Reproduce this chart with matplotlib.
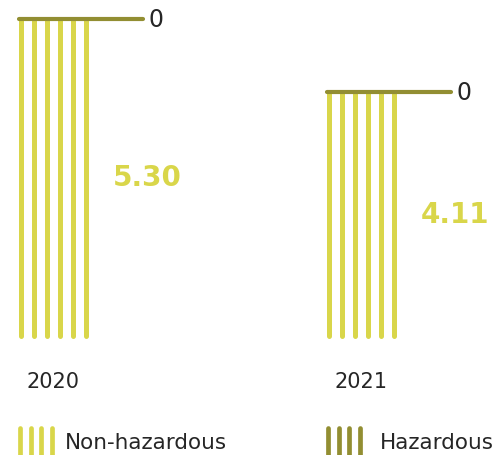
import matplotlib
matplotlib.use("Agg")
import matplotlib.pyplot as plt
from matplotlib.lines import Line2D

years = ["2020", "2021"]
non_hazardous = [5.30, 4.11]
hazardous = [0, 0]
value_labels = ["5.30", "4.11"]
hazard_labels = ["0", "0"]
legend_labels = ["Non-hazardous", "Hazardous"]

YELLOW = "#d9d64a"
OLIVE = "#928e32"
TEXT = "#262626"
FONT = "DejaVu Sans"

W, H = 494, 456
fig = plt.figure(figsize=(W / 100, H / 100), dpi=100)

# axes: x in pixel-like units, y in tonnes
y_zero_px, y_top_px = 346.5, 20
ax = fig.add_axes([0, (H - y_zero_px) / H, 1, (y_zero_px - y_top_px) / H])
ax.set_xlim(0, W)
ax.set_ylim(0, 5.30)
ax.axis("off")

group_left = [21, 329]      # x of first stripe in each group
stripe_pitch = 12.9
n_stripes = 6
hline_len = 124
stripe_base = 0.16

for i, yr in enumerate(years):
    x0 = group_left[i]
    total = non_hazardous[i] + hazardous[i]
    xs = [x0 + k * stripe_pitch for k in range(n_stripes)]
    ax.vlines(xs, stripe_base, non_hazardous[i], colors=YELLOW, linewidth=3.6,
              capstyle="round", clip_on=False)
    ax.plot([x0 - 2, x0 - 2 + hline_len], [total, total], color=OLIVE,
            linewidth=3.0, solid_capstyle="round", clip_on=False)
    ax.text(x0 - 2 + hline_len + 5, total, hazard_labels[i], color=TEXT,
            fontsize=17, fontfamily=FONT, ha="left", va="center")
    ax.text(x0 + 92, non_hazardous[i] / 2 + 0.08, value_labels[i], color=YELLOW,
            fontsize=20, fontweight="bold", fontfamily=FONT,
            ha="left", va="center")
    ax.text(x0 + 32, -0.58, yr, color=TEXT, fontsize=15, fontfamily=FONT,
            ha="center", va="center")

# legend drawn in figure pixel coordinates
def px(x, y):
    return x / W, 1 - y / H

legend_items = [(20, YELLOW, 65), (328, OLIVE, 380)]
for (lx, col, tx), lab in zip(legend_items, legend_labels):
    for k in range(4):
        x = lx + k * 10.7
        (x1, y1), (x2, y2) = px(x, 429), px(x, 460)
        fig.add_artist(Line2D([x1, x2], [y1, y2], color=col, linewidth=3.4,
                              solid_capstyle="round"))
    tx_, ty_ = px(tx, 443)
    fig.text(tx_, ty_, lab, color=TEXT, fontsize=15.5, fontfamily=FONT,
             ha="left", va="center")

fig.savefig("out.png", dpi=100)
